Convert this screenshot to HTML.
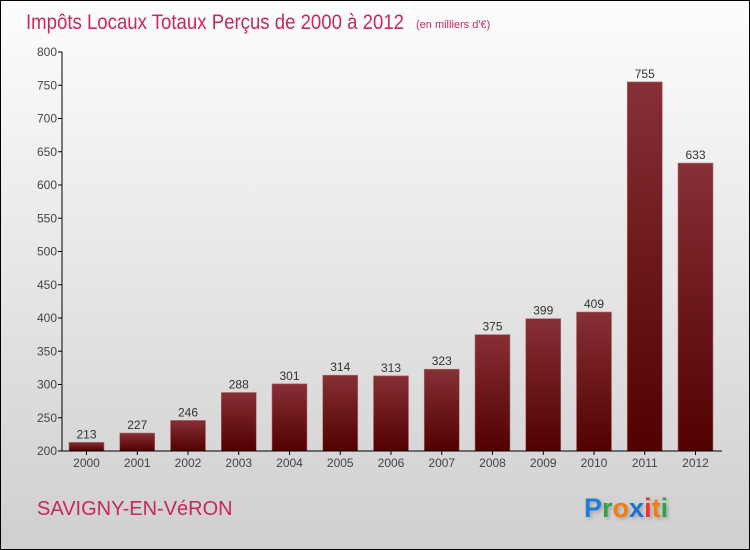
<!DOCTYPE html>
<html><head><meta charset="utf-8"><style>
body{margin:0}
#c{width:748px;height:548px;border:1px solid #000;background:linear-gradient(#fdfdfd,#cfcfcf);position:relative;font-family:"Liberation Sans",sans-serif}
</style></head><body>
<div id="c">
<svg width="748" height="548" style="position:absolute;left:0;top:0" id="s">
<defs><linearGradient id="g" x1="0" y1="0" x2="0" y2="1"><stop offset="0" stop-color="#853035"/><stop offset="1" stop-color="#520000"/></linearGradient>
<filter id="sh"><feDropShadow dx="2" dy="2" stdDeviation="1.5" flood-color="#888" flood-opacity="0.6"/></filter></defs>
<text x="25" y="28" font-size="21" fill="#c8285a" textLength="378" lengthAdjust="spacingAndGlyphs">Impôts Locaux Totaux Perçus de 2000 à 2012</text>
<text x="415" y="27" font-size="11" fill="#c8285a">(en milliers d'€)</text>
<text x="36" y="514" font-size="20" fill="#c8285a">SAVIGNY-EN-VéRON</text>
<g font-size="27" font-weight="bold" font-family="'Liberation Sans',sans-serif" filter="url(#sh)">
<text x="583" y="516"><tspan fill="#1a7fd6">P</tspan><tspan fill="#2fa24a">r</tspan><tspan fill="#f07d0f">o</tspan><tspan fill="#1a6fd0">x</tspan><tspan fill="#e33">i</tspan><tspan fill="#f07d0f">t</tspan><tspan fill="#2fa24a">i</tspan></text></g>
<g id="plot"></g>
</svg></div>
<script>
const years=["2000","2001","2002","2003","2004","2005","2006","2007","2008","2009","2010","2011","2012"];
const values=[213,227,246,288,301,314,313,323,375,399,409,755,633];
const yTicks=[200,250,300,350,400,450,500,550,600,650,700,750,800];
const ns="http://www.w3.org/2000/svg",p=document.getElementById("plot");
const y=v=>450-(v-200)*399/600, x=i=>85.5+i*50.75;
function mk(t,a){const e=document.createElementNS(ns,t);for(const k in a)e.setAttribute(k,a[k]);p.appendChild(e);return e;}
yTicks.forEach(v=>{
 const l=mk("line",{x1:57,x2:61,y1:y(v),y2:y(v),stroke:"#000"});
 
 
 const t=mk("text",{x:56,y:y(v)+4,"text-anchor":"end","font-size":"12",fill:"#444"});t.textContent=v;
 
 
});
values.forEach((v,i)=>{
 const r=mk("rect",{x:x(i)-17.5,y:y(v),width:35,height:450-y(v),fill:"url(#g)",stroke:"#b07070","stroke-width":"0.6"});
 
 
 const t=mk("text",{x:x(i),y:y(v)-4,"text-anchor":"middle","font-size":"12",fill:"#333"});t.textContent=v;
 
 
 const k=mk("line",{x1:x(i),x2:x(i),y1:450,y2:454,stroke:"#000"});
 
 
 const xl=mk("text",{x:x(i),y:466,"text-anchor":"middle","font-size":"12",fill:"#444"});xl.textContent=years[i];
 
 
});
const ya=mk("line",{x1:61,x2:61,y1:y(800),y2:450,stroke:"#000"});


const xa=mk("line",{x1:61,x2:721,y1:450,y2:450,stroke:"#000"});


</script></body></html>
